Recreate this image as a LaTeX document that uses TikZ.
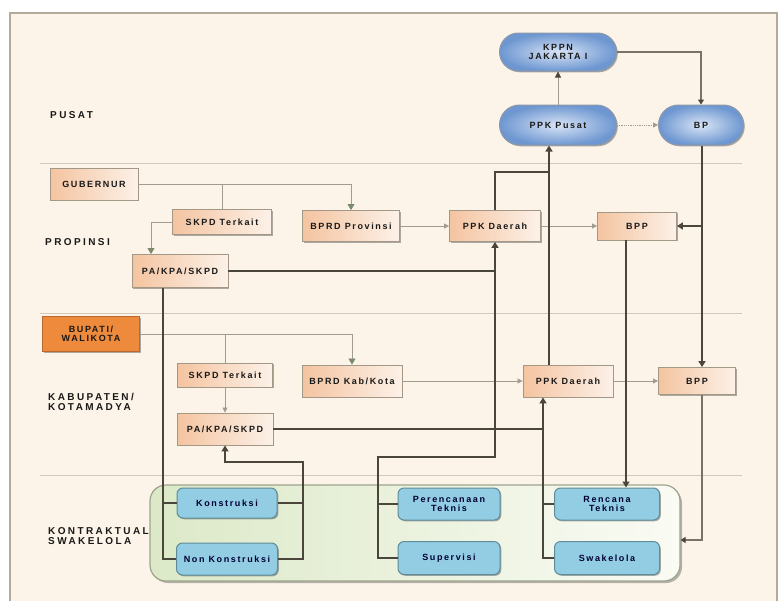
\documentclass[tikz,border=0pt]{standalone}
\usepackage{fontspec}
\setmainfont{Liberation Sans}
\newfontfamily\boxfont[LetterSpace=18]{Liberation Sans}
\newfontfamily\tierfont[LetterSpace=24]{Liberation Sans}
\usetikzlibrary{arrows.meta,shadows,shapes.misc,calc}

\definecolor{paper}{HTML}{FCF4E8}
\definecolor{framec}{HTML}{B3AA9A}
\definecolor{sepc}{HTML}{D2C9B9}
\definecolor{peach}{HTML}{F4C4A0}
\definecolor{peachlite}{HTML}{FCF1E8}
\definecolor{boxedge}{HTML}{A39886}
\definecolor{bupati}{HTML}{EE8A3C}
\definecolor{bupatiedge}{HTML}{B8682E}
\definecolor{ovaldark}{HTML}{6E97D1}
\definecolor{ovallite}{HTML}{D8E4F5}
\definecolor{ovaledge}{HTML}{8C97A8}
\definecolor{cyanbox}{HTML}{93CDE3}
\definecolor{cyanedge}{HTML}{5E8C99}
\definecolor{greenlite}{HTML}{DCE9C8}
\definecolor{whitegreen}{HTML}{FAFBF4}
\definecolor{contedge}{HTML}{9EA38C}
\definecolor{flow}{HTML}{4B463B}
\definecolor{medflow}{HTML}{7A7264}
\definecolor{thinc}{HTML}{A29C8E}
\definecolor{tipgreen}{HTML}{7C8A6C}

\tikzset{
  boxtext/.style={font=\boxfont\bfseries\fontsize{9}{9}\selectfont, text=black!90, align=center, inner sep=0pt},
  tier/.style={font=\tierfont\bfseries\fontsize{10}{10.5}\selectfont, text=black!90, align=left, inner sep=0pt},
  shade/.style={drop shadow={shadow xshift=1.3pt, shadow yshift=-1.3pt, opacity=0.45, fill=black!70}},
  peachbox/.style={rectangle, boxtext, draw=boxedge, line width=0.9pt, left color=peach, right color=peachlite, shade},
  chiefbox/.style={rectangle, boxtext, draw=bupatiedge, line width=1pt, fill=bupati, shade},
  oval/.style={rounded rectangle, boxtext, draw=ovaledge, line width=1pt, inner color=ovallite, outer color=ovaldark, shading=radial, shade},
  workbox/.style={rectangle, rounded corners=6pt, boxtext, text=black!80!blue, draw=cyanedge, line width=1pt, fill=cyanbox, shade},
  container/.style={rectangle, rounded corners=16pt, draw=contedge, line width=1.2pt, left color=greenlite, right color=whitegreen, drop shadow={shadow xshift=2pt, shadow yshift=-2pt, opacity=0.4, fill=black!70}},
  flowline/.style={draw=flow, line width=1.5pt},
  flowarrow/.style={flowline, -{Triangle[width=7pt,length=6pt]}},
  medarrow/.style={draw=medflow, line width=1.1pt, -{Triangle[width=6pt,length=5pt,color=flow]}},
  thinline/.style={draw=thinc, line width=0.8pt},
  thinarrow/.style={thinline, -{Triangle[width=7pt,length=6pt,color=tipgreen]}},
  lightarrow/.style={thinline, -{Triangle[width=5pt,length=5pt,color=thinc]}},
  separator/.style={draw=sepc, line width=1pt}
}

\begin{document}
\begin{tikzpicture}[x=1pt,y=-1pt]
\useasboundingbox (0,0) rectangle (781,600);
\fill[white] (0,0) rectangle (781,600);
% page frame
\draw[framec, fill=paper, line width=1.4pt] (10,13) rectangle (777,612);

% tier separators
\draw[separator] (40,163) -- (742,163);
\draw[separator] (40,313) -- (742,313);
\draw[separator] (40,475) -- (742,475);

% tier labels
\node[tier, anchor=west] (lpusat) at (50,115) {PUSAT};
\node[tier, anchor=west] (lprop) at (45,242) {PROPINSI};
\node[tier, anchor=west] (lkab) at (48,402) {KABUPATEN/\\KOTAMADYA};
\node[tier, anchor=west] (lkon) at (48,536) {KONTRAKTUAL\\SWAKELOLA};

% contract / self-managed group
\node[container, minimum width=530pt, minimum height=96pt] (cont) at (415,533) {};

% bus positions
\coordinate (busPusat) at (549,172);
\coordinate (busProv) at (378,457);
\coordinate (busKon) at (303,462);
\coordinate (busPA) at (163,0);
\coordinate (busKab) at (543,0);
\coordinate (busBPP) at (626,0);
\coordinate (busBP) at (702,0);
\coordinate (bpTurn) at (702,540);
\coordinate (skTurn) at (151,220);

% central level
\node[oval, minimum width=117pt, minimum height=38pt] (kppn) at (558,52) {KPPN\\JAKARTA I};
\node[oval, minimum width=117pt, minimum height=40pt] (ppkp) at (558,125) {PPK Pusat};
\node[oval, minimum width=85pt, minimum height=40pt] (bp) at (701,125) {BP};

% province level
\node[peachbox, minimum width=88pt, minimum height=32pt] (gub) at (94,184) {GUBERNUR};
\node[peachbox, minimum width=99pt, minimum height=25pt] (skpd) at (222,222) {SKPD Terkait};
\node[peachbox, minimum width=97pt, minimum height=31pt] (bprd) at (351,226) {BPRD Provinsi};
\node[peachbox, minimum width=96pt, minimum height=33pt] (pakpa) at (180,271) {PA/KPA/SKPD};
\node[peachbox, minimum width=91pt, minimum height=31pt] (ppkd) at (495,226) {PPK Daerah};
\node[peachbox, minimum width=79pt, minimum height=28pt] (bppd) at (637,226) {BPP};

% regency level
\node[chiefbox, minimum width=97pt, minimum height=35pt] (bup) at (91,334) {BUPATI/\\WALIKOTA};
\node[peachbox, minimum width=95pt, minimum height=24pt] (skpdk) at (225,375) {SKPD Terkait};
\node[peachbox, minimum width=100pt, minimum height=32pt] (bprdk) at (352,381) {BPRD Kab/Kota};
\node[peachbox, minimum width=96pt, minimum height=32pt] (pakpak) at (225,429) {PA/KPA/SKPD};
\node[peachbox, minimum width=90pt, minimum height=32pt] (ppkdk) at (568,381) {PPK Daerah};
\node[peachbox, minimum width=77pt, minimum height=27pt] (bppk) at (697,381) {BPP};

% executing units
\node[workbox, minimum width=100pt, minimum height=30pt] (kons) at (227,503) {Konstruksi};
\node[workbox, minimum width=101pt, minimum height=32pt] (nonkon) at (227,559) {Non Konstruksi};
\node[workbox, minimum width=102pt, minimum height=32pt] (perenc) at (449,504) {Perencanaan\\Teknis};
\node[workbox, minimum width=102pt, minimum height=33pt] (superv) at (449,558) {Supervisi};
\node[workbox, minimum width=105pt, minimum height=32pt] (renc) at (607,504) {Rencana\\Teknis};
\node[workbox, minimum width=105pt, minimum height=33pt] (swa) at (607,558) {Swakelola};

% central connectors
\draw[medarrow] (kppn.east) -| (bp.north);
\draw[lightarrow, -{Triangle[width=6pt,length=6pt,color=flow]}] (ppkp.north) -- (kppn.south);
\draw[lightarrow, densely dotted] (ppkp.east) -- (bp.west);

% province connectors
\draw[thinarrow] (gub.east) -| (bprd.north);
\draw[thinline] (gub.east -| skpd.north) -- (skpd.north);
\draw[thinarrow] (skpd.west) -| (pakpa.north -| skTurn);
\draw[lightarrow] (bprd.east) -- (ppkd.west);
\draw[lightarrow] (ppkd.east) -- (bppd.west);

% regency connectors
\draw[thinarrow] (bup.east) -| (bprdk.north);
\draw[thinline] (bup.east -| skpdk.north) -- (skpdk.north);
\draw[lightarrow] (skpdk.south) -- (pakpak.north);
\draw[lightarrow] (bprdk.east) -- (ppkdk.west);
\draw[lightarrow] (ppkdk.east) -- (bppk.west);

% reporting and payment buses
\draw[flowline] (ppkd.north) |- (busPusat);
\draw[flowarrow] (ppkdk.north -| busPusat) -- (ppkp.south -| busPusat);
\draw[flowarrow] (pakpa.east) -| (ppkd.south);
\draw[flowline] (superv.west) -| (busProv) -| (pakpa.east -| ppkd.south);
\draw[flowline] (perenc.west) -- (perenc.west -| busProv);
\draw[flowarrow] (nonkon.east) -| (busKon) -| (pakpak.south);
\draw[flowline] (kons.east) -- (kons.east -| busKon);
\draw[flowline] (pakpa.south -| busPA) |- (nonkon.west);
\draw[flowline] (kons.west -| busPA) -- (kons.west);
\draw[flowarrow] (swa.west) -| (ppkdk.south -| busKab);
\draw[flowline] (renc.west) -- (renc.west -| busKab);
\draw[flowline] (pakpak.east) -- (pakpak.east -| busKab);
\draw[flowarrow] (bppd.south -| busBPP) -- (renc.north -| busBPP);
\draw[flowarrow] (bp.south -| busBP) -- (bppk.north -| busBP);
\draw[flowarrow] (bppd.east -| busBP) -- (bppd.east);
\draw[medarrow] (bppk.south -| busBP) -- (bpTurn) -- (cont.east |- bpTurn);
\end{tikzpicture}
\end{document}
